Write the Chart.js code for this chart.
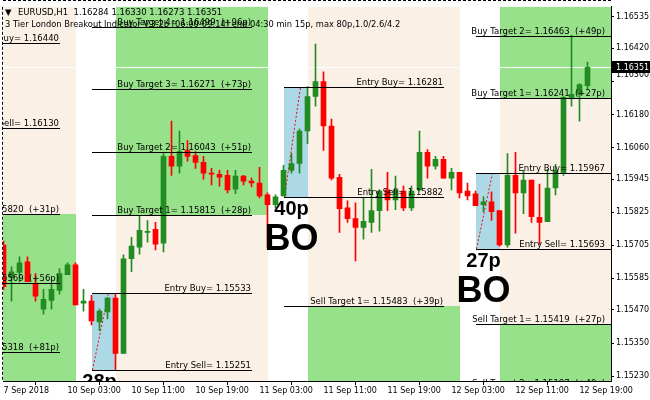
<!DOCTYPE html>
<html>
<head>
<meta charset="utf-8">
<title>EURUSD H1 - London Breakout</title>
<script src="https://cdn.jsdelivr.net/npm/chart.js@4.4.1/dist/chart.umd.min.js"></script>
<style>
  html, body { margin: 0; padding: 0; background: #fff; }
  canvas { display: block; }
</style>
</head>
<body>
<canvas id="breakout-chart" width="650" height="400"></canvas>
<script>
// EURUSD H1 bars, 7 Sep 19:00 .. 12 Sep 20:00 (one entry per bar)
const opens = [1.15706, 1.15588, 1.15606, 1.15645, 1.15566, 1.15473, 1.15505, 1.15541, 1.15598, 1.15634,
    1.15495, 1.15502, 1.15427, 1.15463, 1.15513, 1.15312, 1.15656, 1.15698, 1.15752, 1.15763,
    1.15713, 1.16028, 1.15992, 1.16049, 1.16031, 1.16006, 1.15967, 1.15963, 1.15959, 1.15909,
    1.15956, 1.15938, 1.15931, 1.15888, 1.15852, 1.15884, 1.15977, 1.16002, 1.16120, 1.16245,
    1.16299, 1.16138, 1.15952, 1.15841, 1.15802, 1.15770, 1.15788, 1.15831, 1.15906, 1.15870,
    1.15902, 1.15841, 1.15906, 1.16042, 1.15992, 1.16017, 1.15949, 1.15970, 1.15902, 1.15892,
    1.15852, 1.15863, 1.15831, 1.15706, 1.15959, 1.15895, 1.15942, 1.15806, 1.15791, 1.15913,
    1.15967, 1.16242, 1.16253, 1.16284];
const highs = [1.15720, 1.15627, 1.15663, 1.15663, 1.15602, 1.15545, 1.15563, 1.15620, 1.15641, 1.15641,
    1.15545, 1.15523, 1.15473, 1.15516, 1.15530, 1.15670, 1.15734, 1.15813, 1.15795, 1.15788,
    1.16038, 1.16156, 1.16120, 1.16085, 1.16045, 1.16028, 1.15984, 1.15977, 1.15977, 1.15977,
    1.15959, 1.15949, 1.15988, 1.15895, 1.15888, 1.15995, 1.16038, 1.16127, 1.16281, 1.16435,
    1.16335, 1.16163, 1.15963, 1.15866, 1.15859, 1.15877, 1.15981, 1.15906, 1.15970, 1.15956,
    1.15920, 1.15920, 1.16120, 1.16052, 1.16028, 1.16028, 1.15984, 1.15970, 1.15931, 1.15902,
    1.15881, 1.15899, 1.15831, 1.16038, 1.16042, 1.15977, 1.15942, 1.15927, 1.15981, 1.15999,
    1.16245, 1.16467, 1.16292, 1.16370];
const lows = [1.15545, 1.15502, 1.15573, 1.15573, 1.15502, 1.15455, 1.15473, 1.15527, 1.15598, 1.15488,
    1.15466, 1.15416, 1.15395, 1.15438, 1.15251, 1.15312, 1.15609, 1.15673, 1.15716, 1.15688,
    1.15681, 1.15959, 1.15967, 1.16010, 1.15984, 1.15945, 1.15924, 1.15920, 1.15895, 1.15892,
    1.15924, 1.15917, 1.15877, 1.15698, 1.15841, 1.15884, 1.15967, 1.15967, 1.16074, 1.16210,
    1.16049, 1.15942, 1.15752, 1.15788, 1.15648, 1.15727, 1.15752, 1.15756, 1.15831, 1.15834,
    1.15831, 1.15831, 1.15902, 1.15949, 1.15981, 1.15949, 1.15906, 1.15877, 1.15870, 1.15849,
    1.15827, 1.15795, 1.15702, 1.15698, 1.15749, 1.15820, 1.15788, 1.15709, 1.15791, 1.15888,
    1.15959, 1.16210, 1.16156, 1.16273];
const closes = [1.15555, 1.15609, 1.15641, 1.15573, 1.15520, 1.15509, 1.15545, 1.15602, 1.15634, 1.15488,
    1.15502, 1.15430, 1.15466, 1.15513, 1.15312, 1.15656, 1.15702, 1.15759, 1.15755, 1.15709,
    1.16028, 1.15992, 1.16045, 1.16028, 1.16006, 1.15967, 1.15963, 1.15952, 1.15906, 1.15956,
    1.15938, 1.15931, 1.15884, 1.15852, 1.15881, 1.15977, 1.16002, 1.16120, 1.16245, 1.16299,
    1.16138, 1.15949, 1.15838, 1.15802, 1.15770, 1.15792, 1.15831, 1.15902, 1.15870, 1.15906,
    1.15841, 1.15902, 1.16042, 1.15992, 1.16017, 1.15949, 1.15970, 1.15895, 1.15884, 1.15849,
    1.15863, 1.15827, 1.15706, 1.15959, 1.15895, 1.15942, 1.15809, 1.15788, 1.15913, 1.15977,
    1.16242, 1.16253, 1.16288, 1.16351];

// time axis labels, one every 8 bars
const timeLabels = ['7 Sep 2018', '10 Sep 03:00', '10 Sep 11:00', '10 Sep 19:00', '11 Sep 03:00',
    '11 Sep 11:00', '11 Sep 19:00', '12 Sep 03:00', '12 Sep 11:00', '12 Sep 19:00'];
const priceTicks = [1.16535, 1.16420, 1.16300, 1.16180, 1.16060, 1.15945, 1.15825, 1.15705, 1.15585,
    1.15470, 1.15350, 1.15230];
const lastPrice = 1.16351;
const headerOHLC = [1.16284, 1.16330, 1.16273, 1.16351];

// breakout sessions (7, 10, 11, 12 Sep): bar index where the range box starts
const sessionStart = [-13, 11, 35, 59];
const entryBuy = [1.16440, 1.15533, 1.16281, 1.15967];
const entrySell = [1.16130, 1.15251, 1.15882, 1.15693];
const rangePips = [31, 28, 40, 27];
const buyTargets = [[], [1.15815, 1.16043, 1.16271, 1.16499], [], [1.16241, 1.16463]];
const buyTargetPips = [[], [28, 51, 73, 96], [], [27, 49]];
const sellTargets = [[1.15820, 1.15569, 1.15318], [], [1.15483], [1.15419, 1.15187]];
const sellTargetPips = [[31, 56, 81], [], [39], [27, 49]];
const buyHit = [false, true, false, true];
const sellHit = [true, false, true, true];

const BULL = 'rgb(34, 139, 34)';
const BEAR = 'rgb(255, 0, 0)';
const BEIGE = 'rgb(250, 240, 230)';
const ZONE_GREEN = 'rgb(151, 225, 139)';
const BOX_BLUE = 'rgb(173, 216, 230)';
const FONT = "'DejaVu Sans', sans-serif";

const barColors = closes.map((c, i) => c >= opens[i] ? BULL : BEAR);

function px(chart, i) { return chart.scales.x.getPixelForValue(i); }
function py(chart, v) { return chart.scales.y.getPixelForValue(v); }

// zones, range boxes and the bid line, under the candles
const sessionBackground = {
    id: 'sessionBackground',
    beforeDatasetsDraw(chart) {
        const ctx = chart.ctx;
        const area = chart.chartArea;
        ctx.save();
        ctx.beginPath();
        ctx.rect(area.left, area.top, area.right - area.left, area.bottom - area.top);
        ctx.clip();

        sessionStart.forEach((s, d) => {
            const zl = Math.round(px(chart, s + 3));
            const zr = Math.round(px(chart, s + 22));
            ctx.fillStyle = BEIGE;
            ctx.fillRect(zl, area.top, zr - zl, area.bottom - area.top);
            ctx.fillStyle = ZONE_GREEN;
            if (buyHit[d]) {
                const yb = Math.round(py(chart, buyTargets[d][0]));
                ctx.fillRect(zl, area.top, zr - zl, yb - area.top);
            }
            if (sellHit[d]) {
                const ysell = Math.round(py(chart, sellTargets[d][0]));
                ctx.fillRect(zl, ysell, zr - zl, area.bottom - ysell);
            }

            const bl = Math.round(px(chart, s));
            const br = Math.round(px(chart, s + 3));
            const bt = Math.round(py(chart, entryBuy[d]));
            const bb = Math.round(py(chart, entrySell[d]));
            ctx.fillStyle = BOX_BLUE;
            ctx.fillRect(bl, bt, br - bl, bb - bt);

            ctx.strokeStyle = BEAR;
            ctx.lineWidth = 1;
            ctx.setLineDash([2, 2]);
            ctx.beginPath();
            ctx.moveTo(bl + 0.5, bb);
            ctx.lineTo(Math.round(px(chart, s + 2)) + 0.5, bt);
            ctx.stroke();
            ctx.setLineDash([]);
        });

        const yp = Math.round(py(chart, lastPrice)) + 0.5;
        ctx.strokeStyle = '#fff';
        ctx.beginPath();
        ctx.moveTo(area.left, yp);
        ctx.lineTo(area.right, yp);
        ctx.stroke();
        ctx.restore();
    }
};

// level lines, their labels and the breakout texts, over the candles
const sessionLevels = {
    id: 'sessionLevels',
    afterDatasetsDraw(chart) {
        const ctx = chart.ctx;
        const area = chart.chartArea;
        ctx.save();
        ctx.beginPath();
        ctx.rect(area.left, area.top, area.right - area.left, area.bottom - area.top);
        ctx.clip();

        sessionStart.forEach((s, d) => {
            const x0 = Math.round(px(chart, s));
            const x1 = Math.round(px(chart, s + 20));
            const textRight = Math.min(x1, area.right - 5) - 1;

            const levels = [
                { v: entryBuy[d], t: 'Entry Buy= ' + entryBuy[d].toFixed(5) },
                { v: entrySell[d], t: 'Entry Sell= ' + entrySell[d].toFixed(5) }
            ];
            buyTargets[d].forEach((v, k) => levels.push({
                v: v, t: 'Buy Target ' + (k + 1) + '= ' + v.toFixed(5) + '  (+' + buyTargetPips[d][k] + 'p)'
            }));
            sellTargets[d].forEach((v, k) => levels.push({
                v: v, t: 'Sell Target ' + (k + 1) + '= ' + v.toFixed(5) + '  (+' + sellTargetPips[d][k] + 'p)'
            }));

            levels.forEach(l => {
                const y = Math.round(py(chart, l.v)) + 0.5;
                ctx.strokeStyle = '#000';
                ctx.lineWidth = 1;
                ctx.beginPath();
                ctx.moveTo(x0, y);
                ctx.lineTo(x1, y);
                ctx.stroke();
                ctx.fillStyle = '#000';
                ctx.font = '8.5px ' + FONT;
                ctx.textAlign = 'right';
                ctx.textBaseline = 'alphabetic';
                ctx.fillText(l.t, textRight, y - 2.5);
            });

            // range size and breakout mark under the box
            const cx = px(chart, s + 1);
            const ySell = py(chart, entrySell[d]);
            ctx.fillStyle = '#000';
            ctx.textAlign = 'center';
            ctx.font = "bold 20px 'Liberation Sans', Arial, sans-serif";
            ctx.fillText(rangePips[d] + 'p', cx, ySell + 18);
            ctx.font = "bold 36px 'Liberation Sans', Arial, sans-serif";
            ctx.fillText('BO', cx, ySell + 53);
        });
        ctx.restore();
    },
    afterDraw(chart) {
        const ctx = chart.ctx;
        const area = chart.chartArea;
        ctx.save();

        // chart frame (dashed left and top)
        ctx.strokeStyle = '#000';
        ctx.lineWidth = 1;
        ctx.setLineDash([3, 2]);
        ctx.beginPath();
        ctx.moveTo(area.left - 0.5, area.top);
        ctx.lineTo(area.left - 0.5, area.bottom);
        ctx.moveTo(area.left, 0.5);
        ctx.lineTo(area.right, 0.5);
        ctx.stroke();
        ctx.setLineDash([]);

        // header
        ctx.fillStyle = '#000';
        ctx.textAlign = 'left';
        ctx.textBaseline = 'alphabetic';
        ctx.font = '8.5px ' + FONT;
        ctx.fillText('\u25BC', 5, 15);
        ctx.fillText('EURUSD,H1  ' + headerOHLC.map(v => v.toFixed(5)).join(' '), 18, 15);
        const info = '3 Tier London Breakout Indicator V.3.2b [06:00-09:14] end 04:30 min 15p, max 80p,1.0/2.6/4.2';
        ctx.font = '8.5px ' + FONT;
        const w = ctx.measureText(info).width;
        const size = Math.min(8.5, 8.5 * 396 / w);
        ctx.font = size.toFixed(2) + 'px ' + FONT;
        ctx.fillText(info, 5, 27);

        // price axis: shifted label and current price box
        ctx.font = '8px ' + FONT;
        ctx.textBaseline = 'middle';
        ctx.fillText('1.16300', area.right + 5, py(chart, 1.163) - 6.5);
        const yp = Math.round(py(chart, lastPrice));
        ctx.fillStyle = '#000';
        ctx.fillRect(area.right + 1, yp - 6, 650 - area.right - 1, 12);
        ctx.fillStyle = '#fff';
        ctx.fillText(lastPrice.toFixed(5), area.right + 5, yp + 0.5);
        ctx.restore();
    }
};

const idx = opens.map((o, i) => i);

new Chart(document.getElementById('breakout-chart'), {
    type: 'bar',
    data: {
        datasets: [{
            label: 'Body',
            data: idx.map(i => ({ x: i, y: [opens[i], closes[i]] })),
            backgroundColor: barColors,
            barThickness: 5,
            minBarLength: 1,
            grouped: false
        }, {
            label: 'Wick',
            data: idx.map(i => ({ x: i, y: [lows[i], highs[i]] })),
            backgroundColor: barColors,
            barThickness: 1,
            minBarLength: 1,
            grouped: false
        }]
    },
    options: {
        responsive: false,
        animation: false,
        layout: { padding: { left: 3, top: 1, right: 0, bottom: 0 } },
        plugins: {
            legend: { display: false },
            tooltip: { enabled: false }
        },
        scales: {
            x: {
                type: 'linear',
                min: -0.0625,
                max: 75.9375,
                offset: false,
                afterBuildTicks: (scale) => {
                    scale.ticks = timeLabels.map((l, k) => ({ value: k * 8 }));
                },
                afterFit: (scale) => { scale.height = 19; },
                grid: { drawOnChartArea: false, drawTicks: true, tickLength: 4, color: '#000' },
                border: { display: true, color: '#000' },
                ticks: {
                    autoSkip: false,
                    maxRotation: 0,
                    align: 'start',
                    padding: 1,
                    color: '#000',
                    font: { family: FONT, size: 8 },
                    callback: (value, index) => timeLabels[index]
                }
            },
            y: {
                type: 'linear',
                position: 'right',
                min: 1.152122,
                max: 1.165708,
                afterBuildTicks: (scale) => {
                    scale.ticks = priceTicks.map(v => ({ value: v }));
                },
                afterFit: (scale) => { scale.width = 39; },
                grid: { drawOnChartArea: false, drawTicks: true, tickLength: 3, color: '#000' },
                border: { display: true, color: '#000' },
                ticks: {
                    padding: 2,
                    color: '#000',
                    font: { family: FONT, size: 8 },
                    callback: (value) => Math.abs(value - 1.163) < 1e-7 ? '' : value.toFixed(5)
                }
            }
        }
    },
    plugins: [sessionBackground, sessionLevels]
});
</script>
</body>
</html>
